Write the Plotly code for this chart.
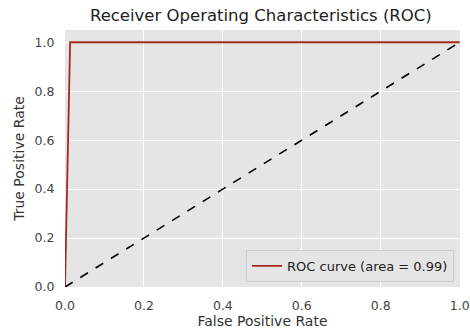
import plotly.graph_objects as go

fpr = [0.0, 0.0, 0.013, 1.0]
tpr = [0.0, 0.0, 1.0, 1.0]
diag_x = [0.0, 1.0]
diag_y = [0.0, 1.0]
roc_label = "ROC curve (area = 0.99)"
xticks = [0.0, 0.2, 0.4, 0.6, 0.8, 1.0]
yticks = [0.0, 0.2, 0.4, 0.6, 0.8, 1.0]

fig = go.Figure()
fig.add_trace(go.Scatter(x=fpr, y=tpr, mode="lines", name=roc_label,
                         line=dict(color="#a52a1e", width=1.8)))
fig.add_trace(go.Scatter(x=diag_x, y=diag_y, mode="lines", showlegend=False,
                         line=dict(color="black", width=1.6, dash="dash")))

font = "DejaVu Sans"
fig.update_layout(
    width=470, height=334,
    margin=dict(l=65, r=10, t=30, b=47),
    paper_bgcolor="white", plot_bgcolor="#e5e5e5",
    font=dict(family=font, color="#333333", size=12),
    title=dict(text="Receiver Operating Characteristics (ROC)", x=0.555, xanchor="center",
               y=0.955, yanchor="middle", font=dict(size=16.5, color="#222222")),
    xaxis=dict(range=[0, 1.0008], tickvals=xticks, ticktext=[f"{v:.1f}" for v in xticks],
               showgrid=True, gridcolor="white", gridwidth=1, zeroline=False,
               ticks="outside", ticklen=7, tickcolor="rgba(0,0,0,0)",
               ticklabeloverflow="allow", automargin=False,
               title=dict(text="False Positive Rate", font=dict(size=14), standoff=0),
               tickfont=dict(size=12.5, color="#444444")),
    yaxis=dict(range=[0, 1.05], tickvals=yticks, ticktext=[f"{v:.1f}" for v in yticks],
               showgrid=True, gridcolor="white", gridwidth=1, zeroline=False,
               ticks="outside", ticklen=7, tickcolor="rgba(0,0,0,0)",
               automargin=False,
               title=dict(text="True Positive Rate", font=dict(size=14), standoff=6),
               tickfont=dict(size=12.5, color="#444444")),
    legend=dict(x=0.985, y=0.02, xanchor="right", yanchor="bottom",
                bgcolor="#e5e5e5", bordercolor="#cccccc", borderwidth=1,
                font=dict(size=13, color="#222222")),
)
fig.write_html("out.html")
